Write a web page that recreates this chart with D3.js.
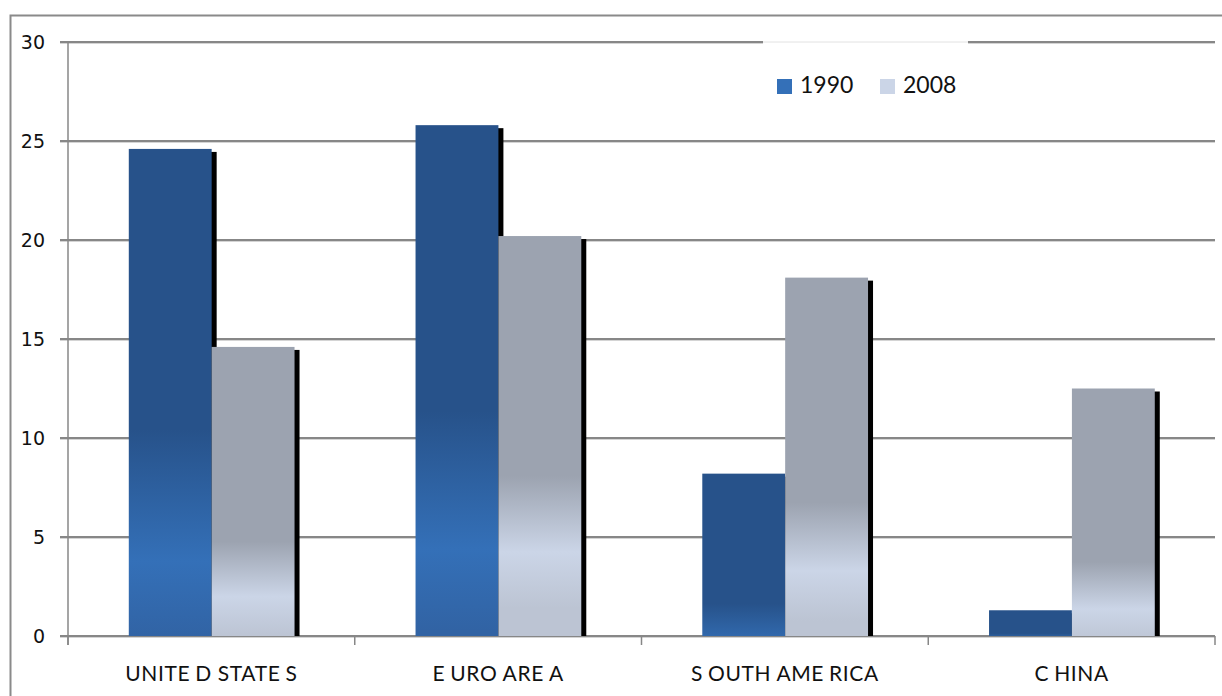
<!DOCTYPE html>
<html>
<head>
<meta charset="utf-8">
<script src="https://cdn.jsdelivr.net/npm/d3@7"></script>
<style>
  html, body { margin: 0; padding: 0; background: #fff; }
  svg { display: block; }
</style>
</head>
<body>
<svg id="chart" width="1222" height="696"></svg>
<script>
// Data
const categories = ["UNITED STATES", "EURO AREA", "SOUTH AMERICA", "CHINA"];
const seriesNames = ["1990", "2008"];
const values1990 = [24.6, 25.8, 8.2, 1.3];
const values2008 = [14.6, 20.2, 18.1, 12.5];
const yTicks = [0, 5, 10, 15, 20, 25, 30];

const seriesValues = { "1990": values1990, "2008": values2008 };
const rows = categories.map((c, i) => ({
  category: c,
  index: i,
  bars: seriesNames.map(s => ({ series: s, value: seriesValues[s][i], cat: i }))
}));

const svg = d3.select("#chart");
const plot = { left: 68, right: 1215, top: 42, bottom: 636 };

const x = d3.scaleBand().domain(categories).range([plot.left, plot.right]).padding(0);
const bw = x.bandwidth();
const x1 = d3.scaleBand().domain(seriesNames).range([bw * 0.212, bw * 0.79]).padding(0);
const y = d3.scaleLinear().domain([0, 30]).range([plot.bottom, plot.top]);

// Bar fill colours; each bar gets a vertical gradient whose bend point
// moves down as the bar gets shorter.
const fills = {
  "1990": { top: "#27528a", mid: "#3470b8", end: "#3163a4", bendAt: h => 0.56 + (511 - h) * 0.00069, ramp: 0.27, tail: 0.16 },
  "2008": { top: "#9ca3b0", mid: "#cbd5e7", end: "#bcc4d3", bendAt: h => 0.60 + (400 - h) * 0.00066, ramp: 0.19, tail: 0.14 }
};
const legendColor = { "1990": "#3470b8", "2008": "#cbd5e7" };

const defs = svg.append("defs");
function gradientFor(d) {
  const f = fills[d.series];
  const top = y(d.value), h = y(0) - y(d.value);
  const b = f.bendAt(h);
  const span = Math.max(1, b + f.ramp + f.tail);
  const id = `g${d.series}_${d.cat}`;
  const g = defs.append("linearGradient").attr("id", id)
    .attr("gradientUnits", "userSpaceOnUse")
    .attr("x1", 0).attr("x2", 0)
    .attr("y1", top).attr("y2", top + h * span);
  [[0, f.top], [b, f.top], [b + f.ramp, f.mid], [b + f.ramp + f.tail, f.end]]
    .forEach(([o, c]) => g.append("stop").attr("offset", Math.min(1, o / span)).attr("stop-color", c));
  return `url(#${id})`;
}

// Outer frame
svg.append("rect")
  .attr("x", 10.5).attr("y", 15.5).attr("width", 1240).attr("height", 700)
  .attr("fill", "none").attr("stroke", "#8a8a8a").attr("stroke-width", 2);

// Horizontal gridlines
const grid = svg.append("g");
yTicks.forEach(t => {
  grid.append("line")
    .attr("x1", plot.left - 8).attr("x2", plot.right)
    .attr("y1", y(t) + 1.5).attr("y2", y(t) + 1.5)
    .attr("stroke", "#d4d4d4").attr("stroke-width", 1);
  grid.append("line")
    .attr("x1", plot.left - 8).attr("x2", plot.right)
    .attr("y1", y(t)).attr("y2", y(t))
    .attr("stroke", "#878787").attr("stroke-width", 2);
});

// Y axis line and labels
svg.append("line")
  .attr("x1", plot.left).attr("x2", plot.left)
  .attr("y1", plot.top).attr("y2", plot.bottom + 9)
  .attr("stroke", "#878787").attr("stroke-width", 1.5);

svg.append("g").selectAll("text").data(yTicks).join("text")
  .attr("x", 45).attr("y", d => y(d))
  .attr("dy", "0.36em")
  .attr("text-anchor", "end")
  .attr("font-family", "'DejaVu Sans', Verdana, sans-serif")
  .attr("font-size", 19)
  .attr("fill", "#111")
  .text(d => d);

// Category tick marks below the baseline
const catEdges = categories.map(c => x(c)).concat([plot.right]);
svg.append("g").selectAll("line").data(catEdges).join("line")
  .attr("x1", d => d).attr("x2", d => d)
  .attr("y1", plot.bottom).attr("y2", plot.bottom + 9)
  .attr("stroke", "#878787").attr("stroke-width", 1.5);

// Bars with a dark drop shadow on the right
const groups = svg.append("g").selectAll("g").data(rows).join("g")
  .attr("transform", d => `translate(${x(d.category)},0)`);

groups.selectAll("rect.shadow").data(d => d.bars).join("rect")
  .attr("class", "shadow")
  .attr("x", d => x1(d.series) + 5)
  .attr("y", d => y(d.value) + 3)
  .attr("width", x1.bandwidth())
  .attr("height", d => y(0) - y(d.value) - 3)
  .attr("fill", "#000");

groups.selectAll("rect.bar").data(d => d.bars).join("rect")
  .attr("class", "bar")
  .attr("x", d => x1(d.series))
  .attr("y", d => y(d.value))
  .attr("width", x1.bandwidth())
  .attr("height", d => y(0) - y(d.value))
  .attr("fill", d => gradientFor(d));

// Category labels
const catLabels = svg.append("g").selectAll("text").data(categories).join("text")
  .attr("x", d => x(d) + bw / 2)
  .attr("y", 681)
  .attr("text-anchor", "middle")
  .attr("font-family", "Lato, 'Open Sans', sans-serif")
  .attr("font-size", 21)
  .attr("letter-spacing", 0.6)
  .attr("fill", "#111");
catLabels.each(function(d) {
  const t = d3.select(this);
  const chars = Array.from(d);
  chars.forEach((ch, i) => {
    const gap = (i > 0 && (chars[i - 1] === "E" && ch !== " ")) ||
                (i === 1 && chars[0] === "S" && ch === "O") ||
                (i === 1 && chars[0] === "C") ? 5 : 0;
    t.append("tspan").attr("dx", gap).text(ch);
  });
});

// Legend box
const legend = svg.append("g");
legend.append("rect")
  .attr("x", 763).attr("y", 41).attr("width", 205).attr("height", 75)
  .attr("fill", "#fff");
legend.append("line")
  .attr("x1", 763).attr("x2", 968).attr("y1", 42).attr("y2", 42)
  .attr("stroke", "#e2e2e2").attr("stroke-width", 1);

const legendPos = { "1990": 777, "2008": 880 };
seriesNames.forEach(s => {
  legend.append("rect")
    .attr("x", legendPos[s]).attr("y", 79)
    .attr("width", 15).attr("height", 15)
    .attr("fill", legendColor[s]);
  legend.append("text")
    .attr("x", legendPos[s] + 23).attr("y", 93)
    .attr("font-family", "Lato, 'Open Sans', sans-serif")
    .attr("font-size", 23)
    .attr("fill", "#111")
    .text(s);
});
</script>
</body>
</html>
